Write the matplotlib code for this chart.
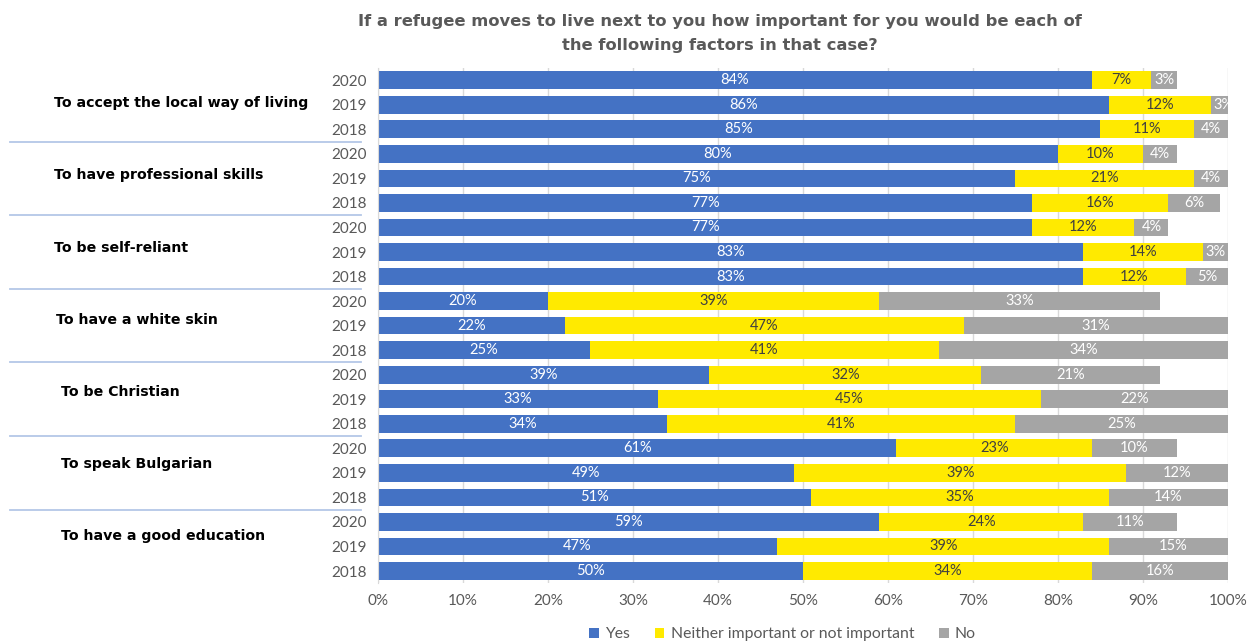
import matplotlib.pyplot as plt
import numpy as np

factors = ["To accept the local way of living", "To have professional skills",
           "To be self-reliant", "To have a white skin", "To be Christian",
           "To speak Bulgarian", "To have a good education"]
years = ["2020", "2019", "2018"]

# one row per factor, in the year order above
yes = [[84, 86, 85], [80, 75, 77], [77, 83, 83], [20, 22, 25],
       [39, 33, 34], [61, 49, 51], [59, 47, 50]]
neither = [[7, 12, 11], [10, 21, 16], [12, 14, 12], [39, 47, 41],
           [32, 45, 41], [23, 39, 35], [24, 39, 34]]
no = [[3, 3, 4], [4, 4, 6], [4, 3, 5], [33, 31, 34],
      [21, 22, 25], [10, 12, 14], [11, 15, 16]]

yes_v = np.array(yes).ravel()
nei_v = np.array(neither).ravel()
no_v = np.array(no).ravel()
n = len(yes_v)
y = np.arange(n)

c_yes, c_nei, c_no = "#4472c4", "#ffea00", "#a5a5a5"

fig = plt.figure(figsize=(12.55, 6.41), dpi=100)
ax = fig.add_axes([0.301, 0.09, 0.6775, 0.804])

h = 0.72
ax.barh(y, yes_v, height=h, color=c_yes, label="Yes", zorder=2)
ax.barh(y, nei_v, left=yes_v, height=h, color=c_nei,
        label="Neither important or not important", zorder=2)
ax.barh(y, no_v, left=yes_v + nei_v, height=h, color=c_no, label="No", zorder=2)

lab_font = dict(fontsize=10.5, family="Lato", va="center", ha="center", zorder=3)
for i in range(n):
    ax.text(yes_v[i] / 2, y[i], f"{yes_v[i]}%", color="white", **lab_font)
    ax.text(yes_v[i] + nei_v[i] / 2, y[i], f"{nei_v[i]}%", color="#404040", **lab_font)
    ax.text(yes_v[i] + nei_v[i] + no_v[i] / 2, y[i], f"{no_v[i]}%", color="white",
            clip_on=True, **lab_font)

ax.set_xlim(0, 100)
ax.set_ylim(n - 0.5, -0.5)
ax.set_xticks(np.arange(0, 101, 10))
ax.set_xticklabels([f"{v}%" for v in range(0, 101, 10)])
ax.set_yticks(y)
ax.set_yticklabels(years * len(factors))
ax.tick_params(length=0, labelsize=11, labelcolor="#595959", pad=8)
for t in ax.get_xticklabels() + ax.get_yticklabels():
    t.set_family("Lato")
ax.grid(axis="x", color="#d9d9d9", lw=1, zorder=0)
for s in ["top", "right", "bottom"]:
    ax.spines[s].set_visible(False)
ax.spines["left"].set_color("#d9d9d9")

# factor names and separators on the left
for k, name in enumerate(factors):
    ax.text(-0.381 + (0.008 if k >= 4 else (0.003 if k == 3 else 0)),
            2.94 * k + 0.94, name, transform=ax.get_yaxis_transform(),
            fontsize=10.2, fontweight="bold", ha="left", va="center", color="black")
    if k > 0:
        ax.plot([-0.432, -0.02], [3 * k - 0.5] * 2, transform=ax.get_yaxis_transform(),
                color="#b4c7e7", lw=1.3, clip_on=False)

fig.text(0.574, 0.978, "If a refugee moves to live next to you how important for you would be each of\nthe following factors in that case?",
         ha="center", va="top", fontsize=11.8, fontweight="bold", color="#595959",
         linespacing=1.75)

leg = ax.legend(loc="upper center", bbox_to_anchor=(0.476, -0.058), ncol=3, frameon=False,
                handlelength=0.6, handleheight=0.6, handletextpad=0.4, columnspacing=1.6,
                prop={"family": "Lato", "size": 11.3})
for t in leg.get_texts():
    t.set_color("#595959")

fig.savefig("out.png", dpi=100)
